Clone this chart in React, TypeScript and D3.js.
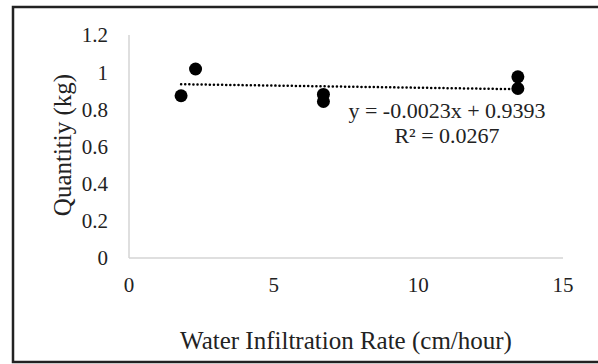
import * as d3 from "d3";
import React from "react";

// measured points (water infiltration rate vs quantity)
const infiltration = [1.8, 2.3, 6.72, 6.72, 13.44, 13.44];
const quantity = [0.873, 1.017, 0.88, 0.842, 0.975, 0.912];

const xTicks = [0, 5, 10, 15];
const yTicks = [0, 0.2, 0.4, 0.6, 0.8, 1, 1.2];

const slope = -0.0023;
const intercept = 0.9393;
const equationText = "y = -0.0023x + 0.9393";
const r2Text = "R² = 0.0267";

const W = 598;
const H = 364;
const serif = "'Liberation Serif', 'Times New Roman', serif";

export default function App() {
  const x = d3.scaleLinear().domain([0, 15]).range([129, 563]);
  const y = d3.scaleLinear().domain([0, 1.2]).range([258, 35]);

  const xMin = d3.min(infiltration) ?? 0;
  const xMax = d3.max(infiltration) ?? 0;
  const trend = d3
    .line<number>()
    .x((d) => x(d))
    .y((d) => y(slope * d + intercept));

  return (
    <svg
      width={W}
      height={H}
      style={{ position: "absolute", left: 0, top: 0, background: "#fff" }}
      fontFamily={serif}
    >
      <rect x={0} y={0} width={W} height={H} fill="#fff" />
      {/* frame, right side falls outside the picture */}
      <rect x={13} y={7} width={600} height={355} fill="none" stroke="#222" strokeWidth={2.5} />

      {/* axes */}
      <line x1={x(0)} x2={x(0)} y1={y(1.2)} y2={y(0)} stroke="#d4d4d4" strokeWidth={1.5} />
      <line x1={x(0)} x2={x(15)} y1={y(0)} y2={y(0)} stroke="#d4d4d4" strokeWidth={1.5} />

      {yTicks.map((t) => (
        <text key={t} x={108} y={y(t)} dy="0.35em" textAnchor="end" fontSize={21} fill="#222">
          {d3.format("~g")(t)}
        </text>
      ))}
      {xTicks.map((t) => (
        <text key={t} x={x(t)} y={285} dy="0.35em" textAnchor="middle" fontSize={21} fill="#222">
          {t}
        </text>
      ))}

      {/* titles */}
      <text
        transform={`translate(62,145) rotate(-90)`}
        textAnchor="middle"
        dy="0.35em"
        fontSize={25}
        fill="#222"
      >
        Quantitiy (kg)
      </text>
      <text x={346} y={340} dy="0.35em" textAnchor="middle" fontSize={25} fill="#222">
        Water Infiltration Rate (cm/hour)
      </text>

      {/* trendline */}
      <path
        d={trend([xMin, xMax]) ?? ""}
        fill="none"
        stroke="#000"
        strokeWidth={2.5}
        strokeDasharray="0.1 4"
        strokeLinecap="round"
      />

      {/* points */}
      {infiltration.map((d, i) => (
        <circle key={i} cx={x(d)} cy={y(quantity[i])} r={6.5} fill="#000" />
      ))}

      {/* equation */}
      <text x={447} y={110} dy="0.35em" textAnchor="middle" fontSize={22} fill="#222">
        {equationText}
      </text>
      <text x={447} y={135} dy="0.35em" textAnchor="middle" fontSize={22} fill="#222">
        {r2Text}
      </text>
    </svg>
  );
}
